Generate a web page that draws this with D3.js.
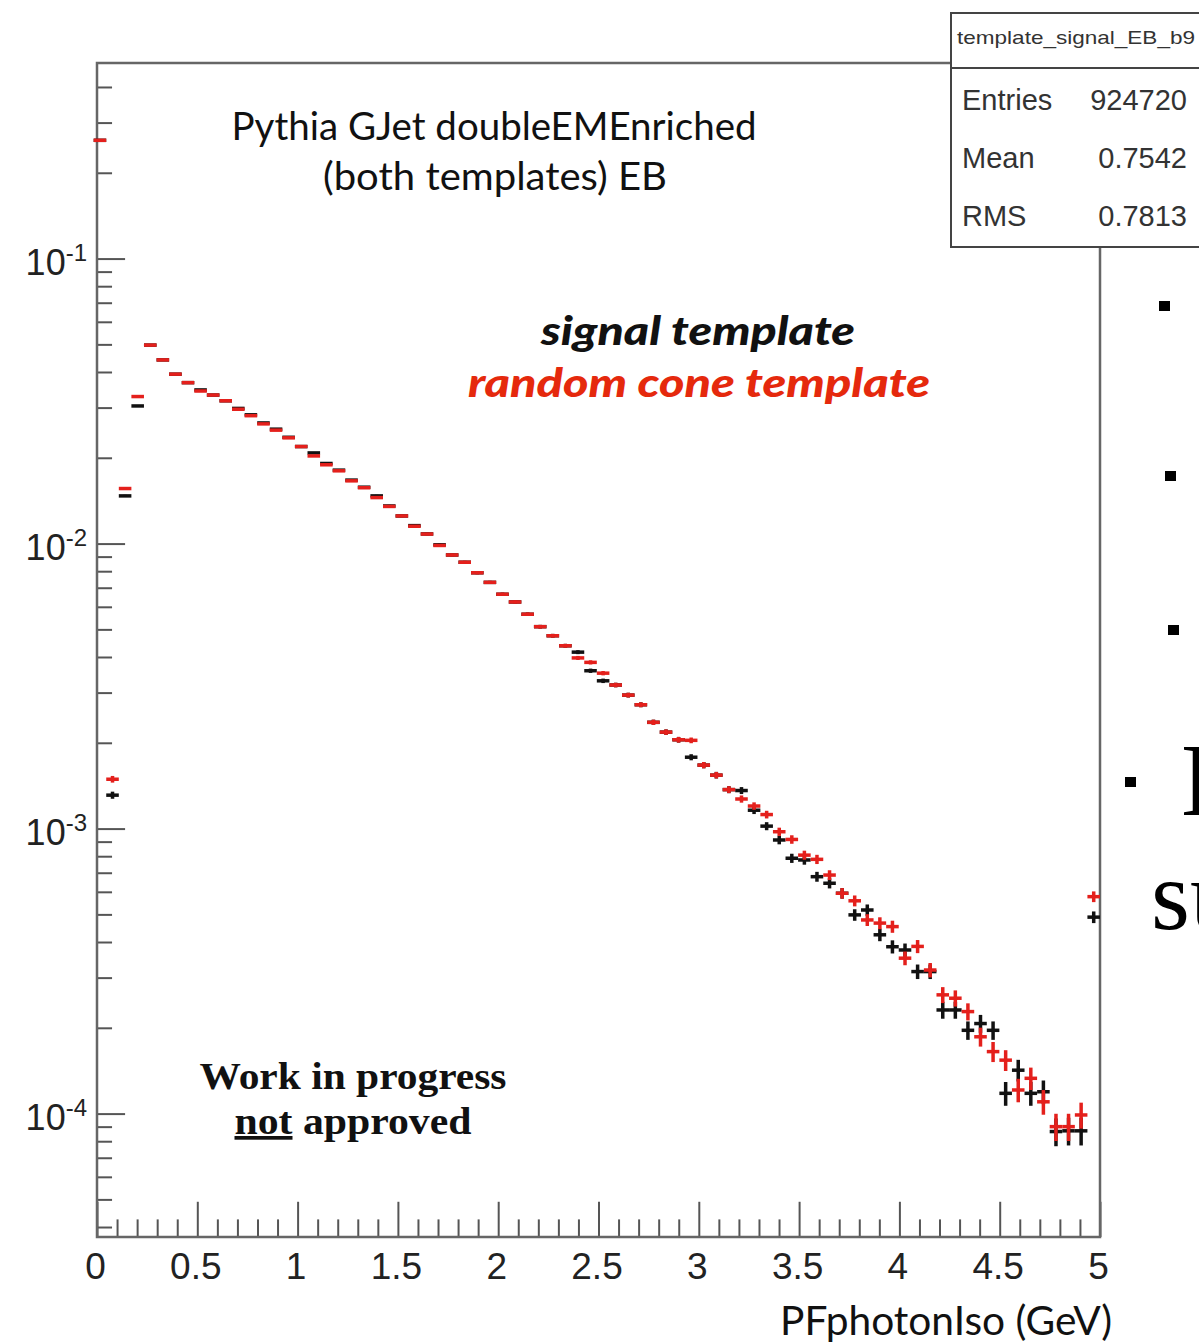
<!DOCTYPE html>
<html>
<head>
<meta charset="utf-8">
<script src="https://cdn.jsdelivr.net/npm/d3@7"></script>
<style>
    body { margin: 0; background: #fff; }
    svg { display: block; }
    .axis path { display: none; }
    .axis line { stroke: #555; stroke-width: 2; }
    .ticklbl { font-family: "Liberation Sans", Arial, sans-serif; fill: #222; }
</style>
</head>
<body>
<script>
// binning of the histogram
var binLow = -0.0167, binHigh = 5.0, nBins = 80;
var entries = 924720;

// signal template (black), one value per bin
var signalValues = [
    0.26, 0.00131, 0.0147, 0.0304, 0.0497, 0.0441, 0.0393, 0.0367, 0.0346, 0.0332,
    0.0317, 0.0298, 0.0283, 0.0265, 0.0252, 0.0236, 0.0219, 0.0208, 0.0191, 0.0181,
    0.0167, 0.01577, 0.0147, 0.01355, 0.0125, 0.01156, 0.01081, 0.0099, 0.00912, 0.0086,
    0.0079, 0.00731, 0.00664, 0.00624, 0.00565, 0.00511, 0.00475, 0.00438, 0.00416, 0.00358,
    0.0033, 0.00319, 0.00294, 0.00272, 0.00236, 0.00218, 0.00205, 0.00178, 0.00167, 0.00154,
    0.00137, 0.00136, 0.00116, 0.00102, 0.000912, 0.000787, 0.000776, 0.000678, 0.000643, 0.000593,
    0.000498, 0.000518, 0.000424, 0.000385, 0.000375, 0.000315, 0.000315, 0.000231, 0.000231, 0.000196,
    0.000207, 0.000196, 0.0001178, 0.000142, 0.0001178, 0.0001193, 0.0000865, 0.000087, 0.000087, 0.000489
];

// random cone template (red)
var coneValues = [
    0.26, 0.00149, 0.0156, 0.0328, 0.0497, 0.0441, 0.0393, 0.0367, 0.0343, 0.0332,
    0.0317, 0.0296, 0.0281, 0.0263, 0.025, 0.0235, 0.0219, 0.0203, 0.0189, 0.018,
    0.0166, 0.0157, 0.0145, 0.0135, 0.0125, 0.0115, 0.0108, 0.00985, 0.00912, 0.0086,
    0.0079, 0.00731, 0.00664, 0.00624, 0.00565, 0.00511, 0.00475, 0.00438, 0.00397, 0.00383,
    0.00351, 0.00319, 0.00294, 0.00272, 0.00236, 0.00218, 0.00205, 0.00204, 0.00167, 0.00154,
    0.00137, 0.00127, 0.0012, 0.00112, 0.000975, 0.000916, 0.000807, 0.00078, 0.000687, 0.000593,
    0.000558, 0.000478, 0.000466, 0.000453, 0.000351, 0.000386, 0.000319, 0.000261, 0.000254, 0.000228,
    0.000186, 0.000165, 0.000154, 0.000121, 0.000133, 0.00011, 0.00009, 0.00009, 0.0000989, 0.000577
];

var xMajor = [0, 0.5, 1, 1.5, 2, 2.5, 3, 3.5, 4, 4.5, 5];
var xLabels = ["0", "0.5", "1", "1.5", "2", "2.5", "3", "3.5", "4", "4.5", "5"];
var yMajor = [1e-4, 1e-3, 1e-2, 1e-1];
var yExponents = ["-4", "-3", "-2", "-1"];

var statsTitle = "template_signal_EB_b9";
var statsRows = [["Entries", "924720"], ["Mean", "0.7542"], ["RMS", "0.7813"]];

var width = 1199, height = 1343;
var frame = { left: 97, right: 1100, top: 63, bottom: 1237 };

var svg = d3.select("body").append("svg")
    .attr("width", width)
    .attr("height", height);

var xScale = d3.scaleLinear()
    .domain([0, 5])
    .range([frame.left, frame.right]);

var yScale = d3.scaleLog()
    .domain([3.69e-5, 0.4855])
    .range([frame.bottom, frame.top]);

// minor ticks
var xMinor = d3.range(0, 51).map(function (i) { return i / 10; })
    .filter(function (v) { return Math.abs(v * 2 - Math.round(v * 2)) > 1e-6; });
var yMinor = [];
[-5, -4, -3, -2, -1].forEach(function (e) {
    for (var k = 2; k <= 9; k++) {
        var v = k * Math.pow(10, e);
        if (v > yScale.domain()[0] && v < yScale.domain()[1]) yMinor.push(v);
    }
});

var plotH = frame.bottom - frame.top;
var plotW = frame.right - frame.left;

svg.append("g")
    .attr("class", "axis")
    .attr("transform", "translate(0," + frame.bottom + ")")
    .call(d3.axisBottom(xScale).tickValues(xMinor).tickSize(-plotH * 0.015).tickFormat(""));

var xAxis = svg.append("g")
    .attr("class", "axis")
    .attr("transform", "translate(0," + frame.bottom + ")")
    .call(d3.axisBottom(xScale).tickValues(xMajor).tickSize(-plotH * 0.03).tickPadding(16)
        .tickFormat(function (d, i) { return xLabels[i]; }));

xAxis.selectAll("text")
    .attr("class", "ticklbl")
    .attr("dx", -2)
    .style("font-size", "37px");

svg.append("g")
    .attr("class", "axis")
    .attr("transform", "translate(" + frame.left + ",0)")
    .call(d3.axisLeft(yScale).tickValues(yMinor).tickSize(-plotW * 0.015).tickFormat(""));

var yAxis = svg.append("g")
    .attr("class", "axis")
    .attr("transform", "translate(" + frame.left + ",0)")
    .call(d3.axisLeft(yScale).tickValues(yMajor).tickSize(-plotW * 0.028).tickFormat(""));

yAxis.selectAll(".tick").each(function (d, i) {
    var t = d3.select(this).append("text")
        .attr("class", "ticklbl")
        .attr("x", -10)
        .attr("y", 16)
        .attr("text-anchor", "end")
        .style("font-size", "36px");
    t.append("tspan").text("10");
    t.append("tspan")
        .attr("dy", -14)
        .style("font-size", "24px")
        .text(yExponents[i]);
});

// frame
svg.append("rect")
    .attr("x", frame.left)
    .attr("y", frame.top)
    .attr("width", plotW)
    .attr("height", plotH)
    .attr("fill", "none")
    .attr("stroke", "#666")
    .attr("stroke-width", 2.5);

// histogram points with error bars
var binWidth = (binHigh - binLow) / nBins;

function drawSeries(values, color, cls) {
    var data = values.map(function (v, i) {
        var c = binLow + (i + 0.5) * binWidth;
        var err = Math.sqrt(v / entries);
        return { c: c, v: v, err: err };
    });

    var g = svg.append("g").attr("class", cls);
    var pts = g.selectAll(".pt")
        .data(data)
        .enter().append("g")
        .attr("class", "pt");

    pts.append("line")
        .attr("x1", function (d) { return xScale(d.c - binWidth / 2); })
        .attr("x2", function (d) { return xScale(d.c + binWidth / 2); })
        .attr("y1", function (d) { return yScale(d.v); })
        .attr("y2", function (d) { return yScale(d.v); })
        .attr("stroke", color)
        .attr("stroke-width", 3.5);

    pts.append("line")
        .attr("x1", function (d) { return xScale(d.c); })
        .attr("x2", function (d) { return xScale(d.c); })
        .attr("y1", function (d) { return yScale(d.v + d.err); })
        .attr("y2", function (d) { return yScale(Math.max(d.v - d.err, 1e-6)); })
        .attr("stroke", color)
        .attr("stroke-width", 3.5);
}

drawSeries(signalValues, "#111", "signal");
drawSeries(coneValues, "#e4201c", "cone");

// annotations
function label(txt, x, y, opts) {
    var t = svg.append("text")
        .attr("x", x)
        .attr("y", y)
        .attr("text-anchor", opts.anchor || "middle")
        .style("font-family", opts.family)
        .style("font-size", opts.size + "px")
        .style("font-weight", opts.weight || "normal")
        .style("font-style", opts.style || "normal")
        .style("fill", opts.color || "#111")
        .text(txt);
    if (opts.len) t.attr("textLength", opts.len).attr("lengthAdjust", "spacingAndGlyphs");
    return t;
}

var sans = "Lato, 'Open Sans', sans-serif";
var serif = "'Liberation Serif', 'DejaVu Serif', serif";

label("Pythia GJet doubleEMEnriched", 494, 140, { family: sans, size: 38, len: 525 });
label("(both templates) EB", 495, 190, { family: sans, size: 38, len: 344 });
label("signal template", 698, 345, { family: sans, size: 40, weight: 900, style: "italic", len: 314 });
label("random cone template", 699, 397, { family: sans, size: 40, weight: 900, style: "italic", color: "#e5290d", len: 462 });
label("Work in progress", 353, 1089, { family: serif, size: 37, weight: "bold", len: 307 });

var wip = label("", 353, 1134, { family: serif, size: 37, weight: "bold", len: 237 });
wip.append("tspan").style("text-decoration", "underline").text("not");
wip.append("tspan").text(" approved");

label("PFphotonIso (GeV)", 1112, 1335, { family: sans, size: 40, anchor: "end", len: 332 });

// stats box
var box = svg.append("g").attr("class", "stats");
box.append("rect")
    .attr("x", 951)
    .attr("y", 13)
    .attr("width", 270)
    .attr("height", 234)
    .attr("fill", "#fff")
    .attr("stroke", "#444")
    .attr("stroke-width", 2);
box.append("line")
    .attr("x1", 951).attr("x2", 1221)
    .attr("y1", 68).attr("y2", 68)
    .attr("stroke", "#444")
    .attr("stroke-width", 2);
label(statsTitle, 1076, 44, { family: "'Liberation Sans', Arial, sans-serif", size: 19, color: "#333", len: 238 });
statsRows.forEach(function (r, i) {
    var yy = 110 + i * 58;
    label(r[0], 962, yy, { family: "'Liberation Sans', Arial, sans-serif", size: 29, anchor: "start", color: "#333" });
    label(r[1], 1187, yy, { family: "'Liberation Sans', Arial, sans-serif", size: 29, anchor: "end", color: "#333" });
});

// slide fragments on the right edge
var bullets = [[1164, 306], [1170, 476], [1173, 630], [1130, 782]];
svg.selectAll(".bullet")
    .data(bullets)
    .enter().append("rect")
    .attr("class", "bullet")
    .attr("x", function (d) { return d[0] - 5; })
    .attr("y", function (d) { return d[1] - 5; })
    .attr("width", 11)
    .attr("height", 10)
    .attr("fill", "#000");

label("D", 1181, 815, { family: serif, size: 104, anchor: "start", color: "#000" });
label("su", 1151, 929, { family: serif, size: 100, anchor: "start", color: "#000" });
</script>
</body>
</html>
